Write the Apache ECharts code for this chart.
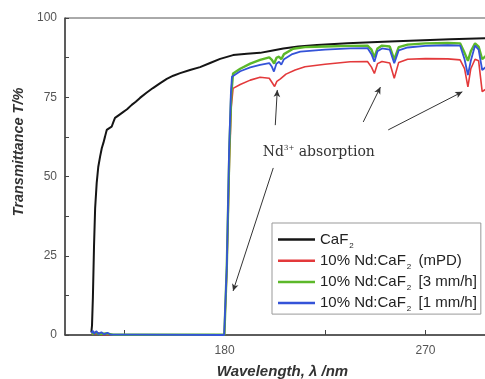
<!DOCTYPE html>
<html>
<head>
<meta charset="utf-8">
<script src="https://cdn.jsdelivr.net/npm/echarts@6/dist/echarts.min.js"></script>
<style>
  html, body { margin: 0; padding: 0; background: #fff; }
  #chart { width: 485px; height: 379px; }
</style>
</head>
<body>
<div id="chart"></div>
<script>
// Transmittance spectra, [wavelength nm, transmittance %]
const caf2 = [[120.3,0.8],[120.6,3],[121,12],[121.5,28],[122,40],[122.7,48],[123.4,53],[124.2,56.2],[125,59],[125.7,60.6],[126.4,62.5],[127.2,64.7],[128.2,65.2],[129.4,65.7],[130.2,67.2],[130.9,68.5],[132.5,69.3],[134.5,70.3],[136.3,71.2],[138.4,72.6],[140.2,73.6],[142.1,74.8],[145,76.4],[147.9,77.9],[151,79.4],[154.1,80.8],[157,81.8],[160.1,82.6],[164.5,83.6],[169,84.5],[173.5,85.8],[178,87.1],[183.8,88.3],[190,88.7],[195.9,89],[201,89.7],[206.3,90.4],[213,91],[221.4,91.5],[235,92],[251.1,92.5],[266,92.9],[281.1,93.3],[298,93.6]];

const ndMpd = [[120.5,0.2],[121.2,1],[122,0.3],[123.5,0.7],[125,0.1],[140,0],[179.9,0],[181,20],[182.2,55],[183,72],[183.8,77.8],[187,79],[191.5,80.4],[195.9,81.3],[200,81],[201.4,79.5],[202.4,78.4],[203.4,80],[205,80.8],[207.5,82.3],[211.6,83.6],[216,84.6],[225,85.4],[236.3,86.2],[244,86.3],[245.8,84.5],[247.1,82.5],[248.5,85.6],[250.5,86.3],[254,85.8],[256,81],[258,86],[262,87],[270,87.2],[280,87.1],[285.5,86.8],[287.5,84],[289,78.3],[290.3,84],[292.2,87],[293.8,86.5],[295.4,76.8],[297,77.5],[298,79]];

const nd3mm = [[120.5,0.3],[122,0.8],[124,0.3],[127,0.5],[130,0.1],[140,0.1],[179.9,0.1],[181,22],[182.2,60],[183,76],[183.8,82.5],[187,84],[191.5,85.6],[195.9,86.8],[200,87.6],[201.2,86.8],[202.2,85.6],[203.2,87.4],[204.4,87.8],[205.4,87],[206.6,88.6],[210.7,90.3],[216,90.8],[225,91],[236.3,91.2],[244,91.3],[245.8,90],[247.1,87.6],[248.5,90.4],[250.5,91.3],[254,91],[256,86.9],[258,90.8],[262,91.6],[270,92],[280,92.1],[285.5,92],[287.5,89],[289,86.5],[290.3,89.5],[292.2,92],[293.8,91],[295.4,87],[297,88],[298,90]];

const nd1mm = [[120.4,0.6],[120.9,1.4],[121.6,0.4],[122.5,1.2],[123.6,0.3],[124.8,0.9],[126,0.2],[127.5,0.7],[129,0.1],[140,0.1],[179.8,0],[181,22],[182,58],[182.8,76],[183.3,81.5],[187,83.2],[191.5,84.4],[195.9,85.2],[200,85.8],[201.2,84.6],[202.1,83.1],[203.2,85.6],[204.4,86.2],[205.4,85.3],[206.6,87],[210,88.5],[213.9,89.4],[225,90],[236.3,90.4],[244,90.5],[245.8,88.6],[247.1,86.2],[248.5,89.5],[250.5,90.4],[254,90],[256,85.7],[258,89.8],[262,90.7],[270,91.2],[280,91.4],[285.5,91.3],[287.5,87],[289,82],[290.3,86.5],[292.2,91.3],[293.8,90],[295.4,83.6],[297,84.5],[298,87]];

const seriesNames = ['CaF2', '10% Nd:CaF2 (mPD)', '10% Nd:CaF2 [3 mm/h]', '10% Nd:CaF2 [1 mm/h]'];
const seriesColors = ['#151515', '#e3393b', '#5cb82a', '#3453d8'];
const xTickValues = [135, 180, 225, 270];
const xLabelValues = [180, 270];

// Nd3+ absorption call-outs: [from, to] in data coordinates
const arrowPairs = [
  [[202.7, 66.2], [203.6, 77.3]],
  [[242.1, 67.2], [249.8, 78.2]],
  [[253.3, 64.7], [286.5, 76.7]],
  [[201.8, 52.7], [183.8, 13.9]]
];
const noteAt = [222.2, 57.6];

const chart = echarts.init(document.getElementById('chart'), null, { renderer: 'canvas' });

function legendLabel(name) {
  const parts = name.split('CaF2');
  let s = '{n|' + parts[0] + 'CaF}{s|2}';
  if (parts[1]) s += '{n|' + parts[1] + '}';
  return s;
}

const lineWidths = [2, 1.6, 2.4, 1.8];
const dataSets = [caf2, ndMpd, nd3mm, nd1mm];

const series = dataSets.map((d, i) => ({
  name: seriesNames[i],
  type: 'line',
  data: d,
  showSymbol: false,
  symbol: 'none',
  smooth: false,
  clip: true,
  silent: true,
  z: 2 + i,
  lineStyle: { color: seriesColors[i], width: lineWidths[i] },
  itemStyle: { color: seriesColors[i] }
}));

series[0].markLine = {
  silent: true,
  symbol: ['none', 'arrow'],
  symbolSize: [5, 7],
  label: { show: false },
  lineStyle: { color: '#333', width: 1, type: 'solid' },
  emphasis: { disabled: true },
  data: arrowPairs.map(p => [{ coord: p[0] }, { coord: p[1] }])
};
series[0].markPoint = {
  silent: true,
  symbol: 'circle',
  symbolSize: 0,
  data: [{
    coord: noteAt,
    label: {
      show: true,
      position: 'inside',
      formatter: '{n|Nd}{p|3+}{n| absorption}',
      rich: {
        n: { fontFamily: 'DejaVu Serif', fontSize: 14, lineHeight: 16, color: '#333' },
        p: { fontFamily: 'DejaVu Serif', fontSize: 7, lineHeight: 7, verticalAlign: 'top', color: '#333' }
      }
    }
  }]
};

chart.setOption({
  animation: false,
  textStyle: { fontFamily: 'Liberation Sans' },
  grid: {
    left: 65, top: 18, right: -3, bottom: 44,
    outerBoundsMode: 'none',
    show: true, borderColor: '#555', borderWidth: 1
  },
  legend: {
    data: seriesNames,
    orient: 'vertical',
    left: 272,
    top: 223,
    padding: [9, 4, 1, 6],
    icon: 'rect',
    itemWidth: 37,
    itemHeight: 2.5,
    itemGap: 3.7,
    backgroundColor: '#fff',
    borderColor: '#999',
    borderWidth: 1,
    borderRadius: 0,
    selectedMode: false,
    formatter: legendLabel,
    textStyle: {
      color: '#222',
      rich: {
        n: { fontFamily: 'Liberation Sans', fontSize: 15, lineHeight: 20, color: '#222' },
        s: { fontFamily: 'Liberation Sans', fontSize: 8, lineHeight: 8, verticalAlign: 'bottom', padding: [0, 3, 0, 1], color: '#222' }
      }
    }
  },
  xAxis: {
    type: 'value',
    min: 108.5,
    max: 298,
    name: 'Wavelength, λ /nm',
    nameLocation: 'middle',
    nameGap: 29,
    nameTextStyle: { fontFamily: 'Liberation Sans', fontSize: 15, fontStyle: 'italic', fontWeight: 'bold', color: '#333', padding: [0, 0, 0, 12] },
    axisLine: { show: true, lineStyle: { color: '#444', width: 1.5 } },
    axisTick: { show: true, inside: true, length: 5, customValues: xTickValues, lineStyle: { color: '#444' } },
    axisLabel: { customValues: xLabelValues, fontSize: 12, color: '#555', margin: 10 },
    splitLine: { show: false }
  },
  yAxis: {
    type: 'value',
    min: 0,
    max: 100,
    interval: 12.5,
    axisLine: { show: true, lineStyle: { color: '#444', width: 1.5 } },
    axisTick: { show: true, inside: true, length: 4, lineStyle: { color: '#444' } },
    axisLabel: {
      fontSize: 12, color: '#555', margin: 8,
      formatter: v => (v % 25 === 0 ? String(v) : '')
    },
    splitLine: { show: false }
  },
  graphic: [{
    type: 'text',
    x: 19,
    y: 152,
    rotation: Math.PI / 2,
    style: {
      text: 'Transmittance T/%',
      font: 'italic bold 14.5px "Liberation Sans"',
      fill: '#333',
      align: 'center',
      verticalAlign: 'middle'
    }
  }],
  series: series
});
</script>
</body>
</html>
